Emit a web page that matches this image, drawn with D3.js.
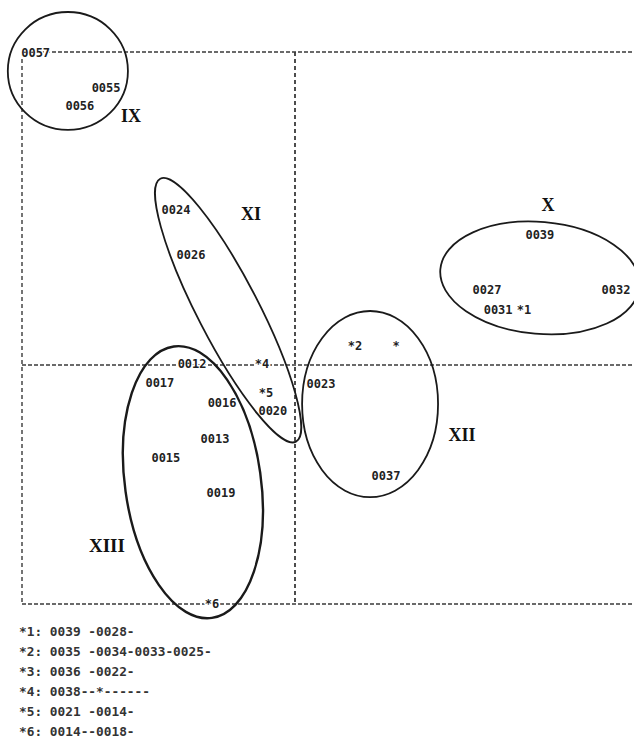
<!DOCTYPE html>
<html>
<head>
<meta charset="utf-8">
<script src="https://cdn.jsdelivr.net/npm/d3@7/dist/d3.min.js"></script>
<style>
    body { margin: 0; background: #fff; }
    svg { display: block; }
    .pt { font-family: "DejaVu Sans Mono", monospace; font-size: 12px; font-weight: bold; fill: #222; }
    .legend { font-family: "DejaVu Sans Mono", monospace; font-size: 12.8px; font-weight: bold; fill: #333; }
    .cl { font-family: "Liberation Serif", serif; font-weight: bold; fill: #111; }
</style>
</head>
<body>
<div id="chart"></div>
<script>
var width = 634,
    height = 740;

// point labels and their factor coordinates
var pointNames = ["0057", "0055", "0056", "0024", "0026", "0039", "0027", "0031", "*1", "0032",
    "*2", "*", "0023", "0037", "0012", "*4", "0017", "0016", "*5", "0020", "0013", "0015", "0019", "*6"];
var pointX = [-0.950, -0.692, -0.788, -0.436, -0.381, 0.897, 0.703, 0.744, 0.839, 1.176,
    0.220, 0.370, 0.095, 0.333, -0.377, -0.121, -0.495, -0.267, -0.106, -0.081, -0.293, -0.473, -0.271, -0.304];
var pointY = [1.143, 1.015, 0.949, 0.568, 0.403, 0.476, 0.275, 0.201, 0.201, 0.275,
    0.070, 0.070, -0.070, -0.407, 0.004, 0.004, -0.066, -0.139, -0.103, -0.168, -0.271, -0.341, -0.469, -0.875];

// clusters: name, label position, ellipse centre / radii / tilt
var clusterNames = ["IX", "XI", "X", "XII", "XIII"];
var clusterLabelX = [-0.601, -0.161, 0.927, 0.612, -0.689];
var clusterLabelY = [0.912, 0.553, 0.586, -0.256, -0.659];
var ellipseCX = [-0.832, -0.245, 0.897, 0.275, -0.374];
var ellipseCY = [1.077, 0.201, 0.319, -0.143, -0.429];
var ellipseRX = [0.220, 0.542, 0.366, 0.249, 0.249];
var ellipseRY = [0.216, 0.112, 0.205, 0.341, 0.502];
var ellipseTilt = [0, 62.7, 5, 0, -8];

// merged points listed below the plot
var legendLines = [
    "*1: 0039 -0028-",
    "*2: 0035 -0034-0033-0025-",
    "*3: 0036 -0022-",
    "*4: 0038--*------",
    "*5: 0021 -0014-",
    "*6: 0014--0018-"
];

var svg = d3.select("#chart").append("svg")
    .attr("width", width)
    .attr("height", height);

var x = d3.scaleLinear()
    .domain([-1, 1.3])
    .range([22, 22 + 273 * 2.3]);

var y = d3.scaleLinear()
    .domain([-0.875, 1.1465])
    .range([604, 52]);

// same pixels per unit on both axes
function len(v) {
    return x(v) - x(0);
}

// dotted frame and the two axes through the origin
var frame = svg.append("g")
    .attr("fill", "none")
    .attr("stroke", "#3a3a3a")
    .attr("stroke-width", 1.4);

var hLines = [1.1465, 0, -0.875];
frame.selectAll(".h")
    .data(hLines)
    .enter()
    .append("line")
    .attr("x1", x(-1))
    .attr("x2", x(1.3))
    .attr("y1", function (d) { return y(d); })
    .attr("y2", function (d) { return y(d); })
    .attr("stroke-dasharray", "4,2");

var vLines = [-1, 0];
frame.selectAll(".v")
    .data(vLines)
    .enter()
    .append("line")
    .attr("x1", function (d) { return x(d); })
    .attr("x2", function (d) { return x(d); })
    .attr("y1", y(1.1465))
    .attr("y2", y(-0.875))
    .attr("stroke-width", function (d) { return d == 0 ? 1.8 : 1.4; })
    .attr("stroke-dasharray", "4,3");

// point labels, with a white halo that knocks out the dotted lines
svg.append("g")
    .selectAll("text")
    .data(pointNames)
    .enter()
    .append("text")
    .attr("class", "pt")
    .attr("x", function (d, i) { return x(pointX[i]); })
    .attr("y", function (d, i) { return y(pointY[i]); })
    .attr("dy", "0.35em")
    .attr("text-anchor", "middle")
    .attr("stroke", "#fff")
    .attr("stroke-width", 3)
    .attr("paint-order", "stroke")
    .text(function (d) { return d; });

// cluster ellipses
svg.append("g")
    .selectAll("ellipse")
    .data(clusterNames)
    .enter()
    .append("ellipse")
    .attr("transform", function (d, i) {
        return "translate(" + x(ellipseCX[i]) + "," + y(ellipseCY[i]) + ") rotate(" + ellipseTilt[i] + ")";
    })
    .attr("rx", function (d, i) { return len(ellipseRX[i]); })
    .attr("ry", function (d, i) { return len(ellipseRY[i]); })
    .attr("fill", "none")
    .attr("stroke", "#1a1a1a")
    .attr("stroke-width", function (d) { return d == "XIII" ? 2.4 : 1.8; });

// cluster names
svg.append("g")
    .selectAll("text")
    .data(clusterNames)
    .enter()
    .append("text")
    .attr("class", "cl")
    .attr("x", function (d, i) { return x(clusterLabelX[i]); })
    .attr("y", function (d, i) { return y(clusterLabelY[i]); })
    .attr("dy", "0.35em")
    .attr("text-anchor", "middle")
    .style("font-size", function (d) { return d == "XIII" ? "19px" : "18px"; })
    .text(function (d) { return d; });

// legend of coincident points
svg.append("g")
    .selectAll("text")
    .data(legendLines)
    .enter()
    .append("text")
    .attr("class", "legend")
    .attr("x", 19)
    .attr("y", function (d, i) { return 632 + i * 20; })
    .attr("dy", "0.35em")
    .attr("xml:space", "preserve")
    .style("white-space", "pre")
    .text(function (d) { return d; });
</script>
</body>
</html>
